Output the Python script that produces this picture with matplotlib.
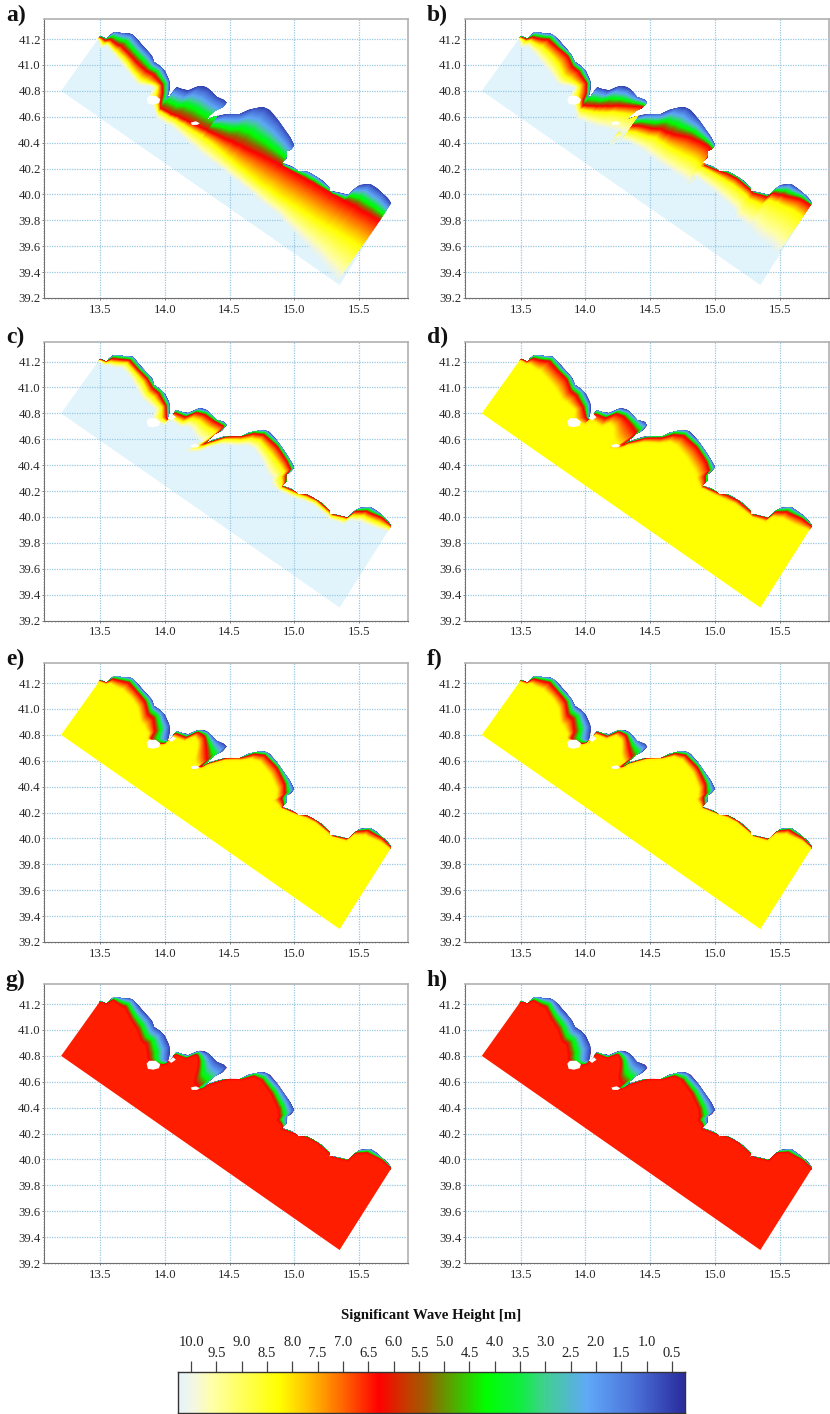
import matplotlib
matplotlib.use("Agg")
import matplotlib.pyplot as plt
import numpy as np
from matplotlib.colors import LinearSegmentedColormap, Normalize, to_rgba
from matplotlib.patches import Polygon
from matplotlib.ticker import MultipleLocator, FormatStrFormatter

plt.rcParams['font.family'] = ['Liberation Serif', 'DejaVu Serif']

W, H = 830, 1414

# Domain outline (lon, lat), coast first and then the offshore corners
coast_lon = [13.5, 13.557, 13.572, 13.603, 13.642, 13.68, 13.719, 13.752, 13.796, 13.847, 13.899, 13.917,
             13.963, 14.002, 14.033, 14.041, 14.028, 14.028, 14.041, 14.066, 14.084, 14.131, 14.182, 14.234,
             14.272, 14.311, 14.349, 14.401, 14.458, 14.478, 14.447, 14.388, 14.344, 14.324, 14.375, 14.44,
             14.504, 14.581, 14.645, 14.71, 14.761, 14.813, 14.877, 14.929, 14.967, 14.998, 14.98, 14.947,
             14.941, 14.903, 14.967, 15.032, 15.109, 15.16, 15.225, 15.276, 15.271, 15.328, 15.418, 15.456,
             15.508, 15.585, 15.636, 15.688, 15.727, 15.75, 15.35, 13.2]
coast_lat = [41.221, 41.2, 41.228, 41.251, 41.251, 41.241, 41.246, 41.233, 41.19, 41.13, 41.071, 41.02,
             40.989, 40.95, 40.886, 40.822, 40.77, 40.752, 40.762, 40.788, 40.827, 40.814, 40.804, 40.827,
             40.84, 40.834, 40.804, 40.752, 40.732, 40.706, 40.675, 40.641, 40.603, 40.572, 40.598, 40.616,
             40.623, 40.621, 40.649, 40.667, 40.675, 40.654, 40.577, 40.5, 40.443, 40.384, 40.351, 40.333,
             40.281, 40.242, 40.224, 40.178, 40.173, 40.139, 40.101, 40.049, 40.024, 40.016, 39.993, 40.037,
             40.07, 40.08, 40.049, 40.006, 39.972, 39.933, 39.30, 40.80]
# Islands / dry spots
isle1_lon = [13.86, 13.88, 13.93, 13.965, 13.955, 13.91, 13.87]
isle1_lat = [40.74, 40.762, 40.762, 40.735, 40.705, 40.693, 40.70]
isle2_lon = [14.20, 14.24, 14.27, 14.25, 14.21]
isle2_lat = [40.555, 40.565, 40.55, 40.537, 40.537]
gap_lon = [14.03, 14.065, 14.085, 14.05]
gap_lat = [40.762, 40.79, 40.77, 40.745]

# Transect stations along the shore: position and bearing pointing offshore (degrees)
st_lon = [13.50, 13.56, 13.62, 13.70, 13.76, 13.82, 13.89, 13.93, 13.99, 14.04, 14.03,
          14.03, 14.07, 14.10, 14.18, 14.27, 14.34, 14.41, 14.48, 14.44, 14.37, 14.32,
          14.33, 14.40, 14.48, 14.607, 14.71, 14.79, 14.89, 14.97, 15.0, 14.95, 14.94,
          14.90, 15.02, 15.11, 15.18, 15.28, 15.30, 15.42, 15.495, 15.586, 15.69, 15.75]
st_lat = [41.22, 41.21, 41.26, 41.25, 41.24, 41.16, 41.09, 41.02, 40.98, 40.87, 40.765,
          40.755, 40.80, 40.83, 40.80, 40.84, 40.82, 40.76, 40.72, 40.67, 40.61, 40.57,
          40.575, 40.60, 40.625, 40.635, 40.68, 40.67, 40.57, 40.45, 40.385, 40.33, 40.27,
          40.24, 40.20, 40.18, 40.14, 40.05, 40.02, 40.0, 40.07, 40.085, 40.01, 39.93]
st_dir = [235, 235, 240, 235, 225, 225, 220, 225, 215, 200, 180,
          235, 235, 235, 240, 235, 225, 220, 215, 210, 205, 200,
          240, 240, 240, 240, 240, 235, 225, 215, 205, 200, 190,
          235, 235, 235, 235, 235, 235, 235, 235, 235, 235, 235]
open_dir = st_dir[:11] + [235] * 33   # storms a, b: fronts run straight along the domain

# Distance from the shore to the isolines of each panel (degrees)
a_red = [.01, .03, .08, .12, .14, .125, .13, .10, .10, .07, .05,
         .116, .174, .214, .222, .297, .308, .283, .277, .213, .129, .07,
         .079, .132, .19, .253, .338, .364, .315, .237, .195, .122, .065,
         .018, .042, .069, .068, .039, .022, .063, .161, .219, .205, .164]
a_yel = [.02, .06, .11, .16, .19, .17, .19, .17, .18, .10, .10,
         .142, .20, .238, .252, .33, .348, .333, .334, .274, .19, .133,
         .142, .197, .257, .343, .449, .493, .477, .431, .398, .32, .264,
         .213, .256, .286, .289, .266, .252, .298, .393, .455, .443, .41]
a_pal = [.03, .10, .135, .19, .225, .22, .23, .22, .245, .13, .16,
         .17, .25, .29, .31, .386, .42, .425, .444, .378, .284, .219,
         .229, .297, .373, .46, .555, .595, .579, .536, .504, .434, .383,
         .337, .378, .416, .449, .457, .449, .524, .63, .71, .75, .74]

b_red = [.01, .02, .06, .07, .07, .05, .04, .05, .06, .04, .03,
         .098, .146, .183, .146, .20, .17, .10, .06, .06, .09, .05,
         .04, .09, .12, .16, .22, .25, .16, .08, .05, .02, .02,
         .01, .02, .03, .025, .02, .015, .03, .08, .12, .06, .02]
b_yel = [.015, .04, .09, .12, .14, .12, .13, .14, .15, .09, .09,
         .13, .18, .22, .20, .26, .23, .17, .14, .13, .16, .12,
         .09, .14, .18, .23, .30, .34, .30, .22, .20, .13, .10,
         .03, .05, .08, .08, .07, .07, .10, .14, .19, .16, .13]
b_pal = [.03, .10, .135, .19, .225, .22, .23, .22, .245, .13, .16,
         .17, .24, .30, .30, .38, .38, .33, .32, .28, .28, .24,
         .18, .22, .27, .34, .44, .48, .46, .40, .36, .30, .25,
         .12, .16, .20, .22, .22, .25, .30, .40, .50, .50, .48]

c_red = [.01, .015, .05, .05, .05, .04, .04, .04, .05, .04, .02,
         .015, .03, .04, .04, .05, .05, .04, .04, .04, .05, .03,
         .01, .015, .015, .02, .05, .05, .04, .04, .04, .02, .01,
         .005, .012, .02, .015, .012, .006, .012, .04, .06, .025, .005]
c_yel = [.015, .03, .08, .08, .08, .07, .08, .09, .10, .07, .06,
         .03, .06, .07, .08, .10, .11, .11, .11, .12, .12, .08,
         .03, .035, .035, .05, .09, .10, .11, .10, .09, .06, .04,
         .015, .03, .04, .03, .03, .02, .03, .08, .10, .07, .02]
c_pal = [.02, .05, .11, .12, .13, .12, .15, .15, .17, .12, .14,
         .05, .08, .10, .12, .18, .20, .23, .25, .25, .22, .18,
         .06, .07, .08, .10, .15, .18, .20, .22, .20, .14, .12,
         .04, .06, .07, .06, .05, .05, .07, .12, .15, .12, .05]

d_red = [.008, .015, .05, .06, .06, .05, .05, .07, .08, .07, .03,
         .02, .04, .05, .05, .06, .07, .08, .12, .09, .07, .05,
         .01, .02, .025, .035, .06, .06, .05, .05, .06, .035, .02,
         .005, .015, .025, .018, .014, .008, .018, .045, .065, .035, .008]
d_yel = [.015, .04, .10, .14, .16, .15, .16, .16, .17, .13, .12,
         .05, .08, .10, .12, .15, .18, .25, .28, .26, .20, .12,
         .03, .05, .06, .08, .12, .15, .16, .16, .16, .10, .07,
         .02, .04, .06, .05, .04, .03, .05, .09, .12, .10, .04]

e_red = [.008, .01, .04, .05, .06, .05, .06, .09, .10, .13, .15,
         .01, .02, .03, .03, .03, .05, .12, .20, .16, .10, .06,
         .005, .012, .012, .02, .04, .04, .04, .06, .09, .06, .03,
         .004, .01, .015, .012, .01, .006, .012, .025, .035, .018, .005]
e_yel = [.015, .03, .08, .11, .13, .11, .13, .17, .19, .18, .17,
         .03, .05, .06, .06, .07, .12, .24, .28, .24, .17, .10,
         .015, .025, .03, .04, .08, .10, .11, .13, .16, .12, .07,
         .01, .025, .035, .03, .025, .015, .03, .06, .08, .05, .02]

f_red = [.008, .01, .04, .05, .06, .05, .06, .10, .11, .14, .15,
         .008, .015, .02, .02, .025, .04, .10, .16, .14, .09, .06,
         .005, .01, .012, .018, .035, .04, .04, .06, .09, .05, .03,
         .004, .01, .012, .012, .01, .006, .012, .022, .03, .018, .005]
f_yel = [.015, .03, .08, .11, .13, .11, .13, .18, .20, .19, .18,
         .02, .035, .04, .04, .06, .09, .18, .23, .20, .15, .10,
         .012, .02, .025, .03, .06, .08, .09, .12, .15, .10, .06,
         .01, .02, .03, .025, .02, .012, .03, .05, .07, .04, .015]

g_red = [.01, .012, .04, .08, .10, .12, .14, .16, .17, .19, .16,
         .01, .02, .03, .03, .04, .12, .25, .29, .24, .16, .10,
         .006, .012, .015, .025, .05, .08, .10, .12, .14, .09, .04,
         .006, .012, .02, .015, .012, .008, .016, .035, .05, .025, .006]
h_red = [.01, .012, .045, .08, .10, .12, .14, .16, .17, .19, .17,
         .01, .018, .025, .025, .04, .10, .21, .25, .21, .14, .09,
         .006, .012, .015, .025, .05, .08, .10, .12, .14, .09, .04,
         .006, .012, .016, .014, .012, .008, .016, .03, .045, .025, .006]

panel_labels = ['a)', 'b)', 'c)', 'd)', 'e)', 'f)', 'g)', 'h)']
panel_red = [a_red, b_red, c_red, d_red, e_red, f_red, g_red, h_red]
panel_yel = [a_yel, b_yel, c_yel, d_yel, e_yel, f_yel, None, None]
panel_pal = [a_pal, b_pal, c_pal, None, None, None, None, None]
panel_dir = [open_dir, open_dir, st_dir, st_dir, st_dir, st_dir, st_dir, st_dir]
panel_sea = [10.26, 10.26, 10.26, 8.27, 8.27, 8.27, 6.5, 6.5]

# Colour scale
cb_hs = [0.24, 0.3, 1.2, 2.16, 3.0, 3.5, 4.17, 5.4, 5.7, 6.29, 7.0, 7.7, 8.27, 9.6, 9.95, 10.26]
cb_col = ['#2b2fa0', '#2b2fa0', '#4a70d8', '#60a8f8', '#40d090', '#10ee40', '#00ff00', '#a05a00',
          '#c04000', '#ff0000', '#ff6600', '#ffc000', '#ffff00', '#ffffa8', '#f4f6e2', '#e4f4fa']
HS_MIN, HS_MAX = 0.24, 10.26
hs_rows = [0.5, 2.2, 4.2, 6.3, 8.27, 10.26]
x_ticks = [13.5, 14.0, 14.5, 15.0, 15.5]
y_ticks = [39.2, 39.4, 39.6, 39.8, 40.0, 40.2, 40.4, 40.6, 40.8, 41.0, 41.2]

norm = Normalize(HS_MIN, HS_MAX)
pos = [(v - HS_MIN) / (HS_MAX - HS_MIN) for v in cb_hs]
cmap = LinearSegmentedColormap.from_list('hs', list(zip(pos, cb_col)), N=512)
# Same scale for the field, fading out at the top so the pale sea and its grid stay visible
rgba = [to_rgba(c) for c in cb_col]
rgba[-1] = rgba[-1][:3] + (0.0,)
rgba[-2] = rgba[-2][:3] + (0.6,)
field_cmap = LinearSegmentedColormap.from_list('hsf', list(zip(pos, rgba)), N=1024)

fig = plt.figure(figsize=(W / 100, H / 100), dpi=100)


def px_axes(l, t, r, b):
    return fig.add_axes([l / W, 1 - b / H, (r - l) / W, (b - t) / H])


lefts = [44.3, 465]
bottoms = [298, 620.5, 942, 1263]
GRID = '#98c8e2'
dom = np.column_stack([coast_lon, coast_lat])

# Fine resampling of the transect mesh so the shading follows the colour scale
n_st = len(st_lon)
s0 = np.arange(n_st)
s1 = np.linspace(0, n_st - 1, (n_st - 1) * 8 + 1)
lon1 = np.interp(s1, s0, st_lon)
lat1 = np.interp(s1, s0, st_lat)
kernel = np.ones(5) / 5


def along(v):
    f = np.interp(s1, s0, v)
    return np.convolve(np.pad(f, 2, mode='edge'), kernel, mode='valid')


for k in range(8):
    l = lefts[k % 2]
    b = bottoms[k // 2]
    ax = px_axes(l, b - 279, l + 364, b)
    ax.set_xlim(13.07, 15.88)
    ax.set_ylim(39.2, 41.355)
    ax.set_xticks(x_ticks)
    ax.set_yticks(y_ticks)
    ax.xaxis.set_major_formatter(FormatStrFormatter('%.1f'))
    ax.yaxis.set_major_formatter(FormatStrFormatter('%.1f'))
    ax.xaxis.set_minor_locator(MultipleLocator(0.025))
    ax.yaxis.set_minor_locator(MultipleLocator(0.02))
    ax.tick_params(which='major', length=1.5, width=0.6, color='#666666', labelsize=9.2,
                   labelcolor='#2a2a2a')
    ax.tick_params(axis='y', which='major', pad=1.0)
    ax.tick_params(axis='x', which='major', pad=2.5)
    ax.tick_params(which='minor', length=1.0, width=0.4, color='#777777')
    ax.grid(True, which='major', color=GRID, lw=0.9, ls=(0, (1, 1)), zorder=2)
    ax.set_axisbelow(False)
    for s in ('top', 'right'):
        ax.spines[s].set_color('#b0b0b0')
        ax.spines[s].set_linewidth(1.2)
    for s in ('left', 'bottom'):
        ax.spines[s].set_color('#707070')
        ax.spines[s].set_linewidth(0.8)

    sea = panel_sea[k]
    pale = sea > 10
    z_sea = 1 if pale else 3
    clip = Polygon(dom, closed=True, facecolor=cmap(norm(sea)) if not pale else '#e1f4fc',
                   edgecolor='none', zorder=z_sea)
    ax.add_patch(clip)

    ang = np.radians(panel_dir[k])
    ux = np.interp(s1, s0, np.cos(ang))
    uy = np.interp(s1, s0, np.sin(ang))
    red = along(panel_red[k])
    rows = [np.zeros_like(red), 0.33 * red, 0.66 * red, red]
    vals = list(hs_rows[:4])
    if panel_yel[k] is not None:
        rows.append(along(panel_yel[k]))
        vals.append(hs_rows[4])
    if panel_pal[k] is not None:
        rows.append(along(panel_pal[k]))
        vals.append(hs_rows[5])
    if panel_yel[k] is None:
        vals[-1] = sea
    rows = np.array(rows)
    r0 = np.arange(len(vals))
    r1 = np.linspace(0, len(vals) - 1, (len(vals) - 1) * 12 + 1)
    w = np.array([np.interp(r1, r0, rows[:, j]) for j in range(rows.shape[1])]).T
    v = np.interp(r1, r0, vals)
    X = lon1 + w * ux
    Y = lat1 + w * uy
    C = np.repeat(v[:, None], X.shape[1], axis=1)
    m = ax.pcolormesh(X, Y, C, shading='gouraud', cmap=field_cmap, norm=norm, zorder=4)
    m.set_clip_path(clip)
    spots = [(isle1_lon, isle1_lat), (isle2_lon, isle2_lat)]
    if k >= 2:
        spots.append((gap_lon, gap_lat))
    for ilon, ilat in spots:
        ax.add_patch(Polygon(np.column_stack([ilon, ilat]), closed=True, fc='white', ec='none', zorder=5))

    fig.text((l - 38.5) / W, 1 - (b - 279 - 4) / H, panel_labels[k], fontsize=17, fontweight='bold',
             va='center', ha='left', color='#111111')

# Colour bar
cax = px_axes(178, 1372, 685, 1413)
grad = np.linspace(HS_MAX, HS_MIN, 512)[None, :]
cax.pcolormesh(np.linspace(HS_MAX, HS_MIN, 513), [0, 1], grad, cmap=cmap, norm=norm, shading='flat')
cax.set_xlim(HS_MAX, HS_MIN)
cax.set_ylim(0, 1)
cax.set_yticks([])
cax.xaxis.tick_top()
cax.xaxis.set_major_locator(MultipleLocator(1.0))
cax.xaxis.set_minor_locator(MultipleLocator(0.5))
cax.xaxis.set_major_formatter(FormatStrFormatter('%.1f'))
cax.xaxis.set_minor_formatter(FormatStrFormatter('%.1f'))
cax.tick_params(axis='x', which='major', length=8, width=0.9, color='#444444', pad=8.5,
                labelsize=10.5, labelcolor='#222222', top=True, bottom=False)
cax.tick_params(axis='x', which='minor', length=8, width=0.9, color='#444444', pad=0.5,
                labelsize=10.5, labelcolor='#222222', top=True, bottom=False)
for s in cax.spines.values():
    s.set_color('#333333')
    s.set_linewidth(1.0)
fig.text(431 / W, 1 - 1315 / H, 'Significant Wave Height [m]', ha='center', va='center',
         fontsize=10.7, fontweight='bold', color='#111111')

fig.savefig('out.png', dpi=100, facecolor='white')
